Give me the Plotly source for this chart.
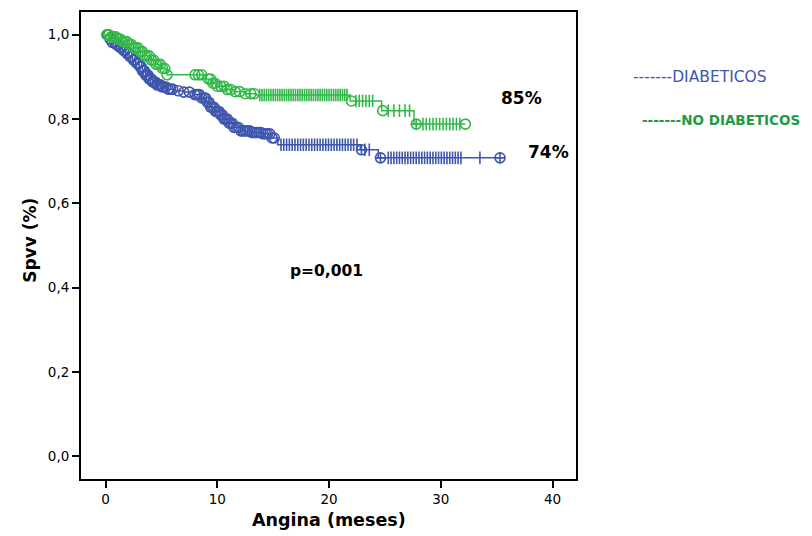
import plotly.graph_objects as go

# ---------------- data ----------------
# DIABETICOS (blue) Kaplan-Meier step points
diab_t = [0, 0.3, 0.6, 0.9, 1.2, 1.5, 1.8, 2.1, 2.4, 2.7, 3.0, 3.3, 3.6, 3.9, 4.2,
          4.6, 5.0, 5.5, 6.2, 7.0, 8.0, 8.6, 9.0, 9.4, 9.8, 10.2, 10.6, 11.0, 11.5,
          12.1, 13.0, 14.0, 14.8, 15.4, 22.8, 24.4, 35.3]
diab_s = [1.0, 0.99, 0.982, 0.976, 0.97, 0.963, 0.956, 0.948, 0.94, 0.932, 0.924,
          0.914, 0.904, 0.895, 0.888, 0.881, 0.876, 0.871, 0.867, 0.864, 0.858, 0.85,
          0.84, 0.828, 0.818, 0.81, 0.80, 0.79, 0.78, 0.772, 0.768, 0.765, 0.755,
          0.739, 0.727, 0.708, 0.708]
diab_circ = [0.2, 0.4, 0.6, 0.8, 1.0, 1.15, 1.3, 1.45, 1.6, 1.75, 1.9, 2.05, 2.2,
             2.35, 2.5, 2.65, 2.8, 2.95, 3.1, 3.2, 3.3, 3.4, 3.5, 3.6, 3.7, 3.8,
             3.9, 4.0, 4.1, 4.2, 4.3, 4.45, 4.6, 4.75, 4.9, 5.05, 5.2, 5.4, 5.6,
             5.8, 6.0, 6.5, 7.0, 7.5, 8.0, 8.2, 8.4, 8.6, 8.8, 8.95, 9.1, 9.25,
             9.4, 9.55, 9.7, 9.85, 10.0, 10.15, 10.3, 10.45, 10.6, 10.75, 10.9,
             11.05, 11.2, 11.35, 11.5, 11.7, 11.9, 12.1, 12.3, 12.5, 12.7, 12.9,
             13.1, 13.3, 13.5, 13.7, 13.9, 14.1, 14.3, 14.5, 14.7, 14.9, 15.1]
diab_tick = [15.7, 15.95, 16.2, 16.45, 16.7, 16.95, 17.2, 17.45, 17.7, 17.95, 18.2,
             18.45, 18.7, 18.95, 19.2, 19.45, 19.7, 19.95, 20.2, 20.45, 20.7, 20.95,
             21.2, 21.45, 21.7, 21.95, 22.2, 22.5, 23.2, 23.6, 25.3, 25.55, 25.8,
             26.05, 26.3, 26.55, 26.8, 27.05, 27.3, 27.55, 27.8, 28.05, 28.3, 28.55,
             28.8, 29.05, 29.3, 29.55, 29.8, 30.05, 30.3, 30.55, 30.8, 31.05, 31.3,
             31.55, 31.8, 33.5]
diab_cross = [22.9, 24.6, 35.3]

# NO DIABETICOS (green)
nodiab_t = [0, 0.5, 1.0, 1.5, 2.0, 2.5, 3.0, 3.5, 4.0, 4.5, 5.0, 5.5, 9.0, 9.5,
            10.0, 10.8, 11.5, 12.5, 13.5, 21.9, 24.7, 27.6, 32.2]
nodiab_s = [1.0, 0.995, 0.99, 0.984, 0.977, 0.969, 0.96, 0.95, 0.94, 0.93, 0.92,
            0.905, 0.895, 0.885, 0.878, 0.87, 0.865, 0.86, 0.857, 0.843, 0.82,
            0.788, 0.788]
nodiab_circ = [0.1, 0.3, 0.5, 0.7, 0.9, 1.1, 1.3, 1.5, 1.7, 1.9, 2.1, 2.3, 2.5,
               2.7, 2.9, 3.1, 3.3, 3.5, 3.7, 3.9, 4.1, 4.3, 4.5, 4.7, 4.9, 5.1,
               5.3, 5.5, 8.0, 8.3, 8.6, 9.2, 9.4, 9.6, 9.8, 10.0, 10.3, 10.6,
               10.9, 11.2, 11.6, 12.0, 12.5, 13.0, 13.3, 22.0, 24.8, 32.2]
nodiab_tick = [13.8, 14.0, 14.2, 14.4, 14.6, 14.8, 15.0, 15.2, 15.4, 15.6, 15.8,
               16.0, 16.2, 16.4, 16.6, 16.8, 17.0, 17.2, 17.4, 17.6, 17.8, 18.0,
               18.2, 18.4, 18.6, 18.8, 19.0, 19.2, 19.4, 19.6, 19.8, 20.0, 20.2,
               20.4, 20.6, 20.8, 21.0, 21.2, 21.4, 21.6, 22.4, 22.7, 23.0, 23.3,
               23.6, 23.9, 25.3, 25.8, 26.3, 26.8, 27.2, 28.4, 28.7, 29.0, 29.3,
               29.6, 29.9, 30.2, 30.5, 30.8, 31.1, 31.4, 31.7]
nodiab_cross = [27.8]

x_ticks = [0, 10, 20, 30, 40]
y_ticks = [0.0, 0.2, 0.4, 0.6, 0.8, 1.0]

BLUE = "#3f56ad"
GREEN = "#33b849"
FONT = "DejaVu Sans, Liberation Sans, Arial, sans-serif"


def surv_at(ts, ss, t):
    v = ss[0]
    for ti, si in zip(ts, ss):
        if ti <= t:
            v = si
    return v


fig = go.Figure()


def add_group(ts, ss, circ, tick, cross, color):
    fig.add_trace(go.Scatter(x=ts, y=ss, mode="lines", line_shape="hv",
                             line=dict(color=color, width=1.5), showlegend=False,
                             hoverinfo="skip"))
    fig.add_trace(go.Scatter(x=tick, y=[surv_at(ts, ss, t) for t in tick],
                             mode="markers", showlegend=False,
                             marker=dict(symbol="line-ns-open", size=9, color=color,
                                         line=dict(color=color, width=1.6))))
    fig.add_trace(go.Scatter(x=circ, y=[surv_at(ts, ss, t) for t in circ],
                             mode="markers", showlegend=False,
                             marker=dict(symbol="circle-open", size=10, color=color,
                                         line=dict(color=color, width=1.6))))
    fig.add_trace(go.Scatter(x=cross, y=[surv_at(ts, ss, t) for t in cross],
                             mode="markers", showlegend=False,
                             marker=dict(symbol="circle-cross-open", size=10, color=color,
                                         line=dict(color=color, width=1.6))))


add_group(diab_t, diab_s, diab_circ, diab_tick, diab_cross, BLUE)
add_group(nodiab_t, nodiab_s, nodiab_circ, nodiab_tick, nodiab_cross, GREEN)

axis_common = dict(showline=True, linecolor="black", linewidth=2, mirror=True,
                   ticks="outside", ticklen=7, tickwidth=2, tickcolor="black",
                   showgrid=False, zeroline=False,
                   tickfont=dict(family=FONT, size=13.5, color="black"))

fig.update_xaxes(range=[-2.2, 42.1], tickvals=x_ticks, **axis_common)
fig.update_yaxes(range=[-0.054, 1.054], tickvals=y_ticks, tickformat=".1f",
                 **axis_common)

C = dict(showarrow=False, xanchor="center", yanchor="middle")
annotations = [
    dict(x=37.2, y=0.849, xref="x", yref="y", text="<b>85%</b>",
         font=dict(family=FONT, size=17, color="black"), **C),
    dict(x=39.6, y=0.721, xref="x", yref="y", text="<b>74%</b>",
         font=dict(family=FONT, size=17, color="black"), **C),
    dict(x=19.8, y=0.44, xref="x", yref="y", text="<b>p=0,001</b>",
         font=dict(family=FONT, size=15.5, color="black"), **C),
    dict(x=1.2505, y=0.861, xref="paper", yref="paper", text="-------DIABETICOS",
         font=dict(family=FONT, size=15.5, color=BLUE), **C),
    dict(x=1.293, y=0.768, xref="paper", yref="paper", text="<b>-------NO DIABETICOS</b>",
         font=dict(family=FONT, size=13.5, color="#1f9a45"), **C),
    dict(x=-0.103, y=0.51, xref="paper", yref="paper", text="<b>Spvv (%)</b>",
         textangle=-90, font=dict(family=FONT, size=17, color="black"), **C),
    dict(x=0.502, y=-0.087, xref="paper", yref="paper", text="<b>Angina (meses)</b>",
         font=dict(family=FONT, size=17.5, color="black"), **C),
]

# page body has an 8px margin, so the figure is sized/shifted to compensate
fig.update_layout(width=804, height=528, margin=dict(l=73, r=236, t=2, b=57),
                  plot_bgcolor="white", paper_bgcolor="white", separators=",.",
                  annotations=annotations, showlegend=False)

fig.write_html("out.html")
